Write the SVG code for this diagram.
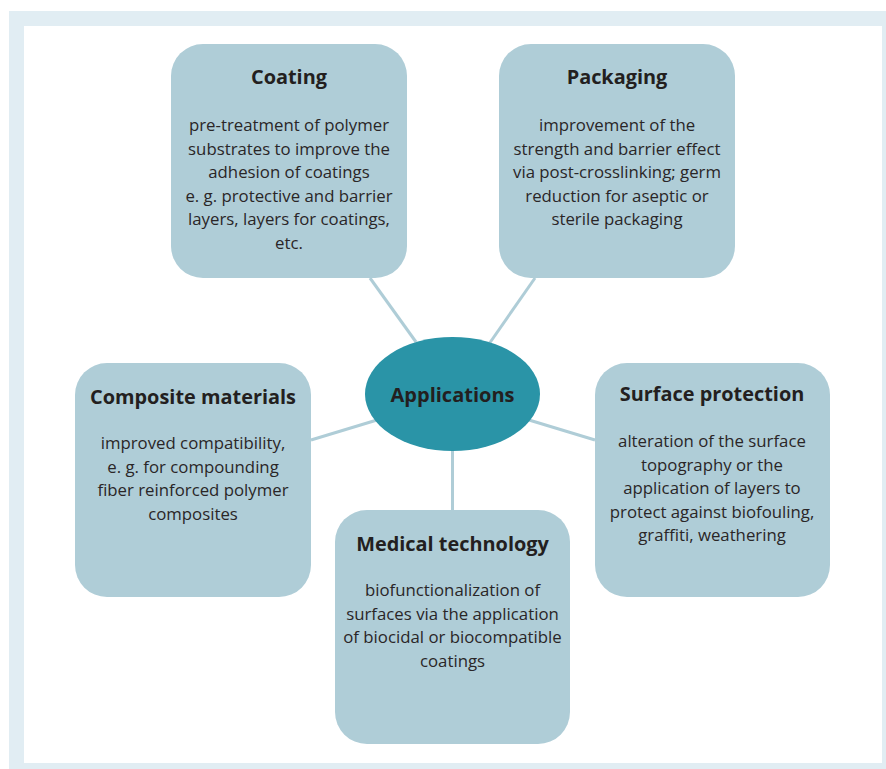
<svg xmlns="http://www.w3.org/2000/svg" width="886" height="769" viewBox="0 0 886 769">
<style>
.box{fill:#afcdd7}
.t{font-family:"Open Sans","Liberation Sans",sans-serif;font-weight:bold;font-size:19.9px;fill:#231f20;text-anchor:middle}
.b{font-family:"Open Sans","Liberation Sans",sans-serif;font-size:16.8px;fill:#2a2627;text-anchor:middle}
.c{stroke:#afcdd7;stroke-width:3;fill:none}
</style>
<rect x="9" y="11" width="890" height="770" fill="#e1edf3"/>
<rect x="24" y="26" width="858" height="737" fill="#ffffff"/>
<g id="connectors">
<line class="c" x1="370" y1="278" x2="416" y2="342"/>
<line class="c" x1="535" y1="278" x2="489" y2="344"/>
<line class="c" x1="311" y1="440" x2="377" y2="420"/>
<line class="c" x1="595" y1="440" x2="529" y2="420"/>
<line class="c" x1="452.5" y1="451" x2="452.5" y2="510"/>
</g>
<g id="coating">
<rect class="box" x="171" y="44" width="236" height="234" rx="32"/>
<text class="t" x="289" y="84">Coating</text>
<text class="b" x="289" y="131">pre-treatment of polymer</text>
<text class="b" x="289" y="154.5">substrates to improve the</text>
<text class="b" x="289" y="178">adhesion of coatings</text>
<text class="b" x="289" y="201.5">e. g. protective and barrier</text>
<text class="b" x="289" y="225">layers, layers for coatings,</text>
<text class="b" x="289" y="248.5">etc.</text>
</g>
<g id="packaging">
<rect class="box" x="499" y="44" width="236" height="234" rx="32"/>
<text class="t" x="617" y="84">Packaging</text>
<text class="b" x="617" y="131">improvement of the</text>
<text class="b" x="617" y="154.5">strength and barrier effect</text>
<text class="b" x="617" y="178">via post-crosslinking; germ</text>
<text class="b" x="617" y="201.5">reduction for aseptic or</text>
<text class="b" x="617" y="225">sterile packaging</text>
</g>
<g id="composite">
<rect class="box" x="75" y="363" width="236" height="234" rx="32"/>
<text class="t" x="193" y="404">Composite materials</text>
<text class="b" x="193" y="449">improved compatibility,</text>
<text class="b" x="193" y="472.5">e. g. for compounding</text>
<text class="b" x="193" y="496">fiber reinforced polymer</text>
<text class="b" x="193" y="519.5">composites</text>
</g>
<g id="surface">
<rect class="box" x="595" y="363" width="235" height="234" rx="32"/>
<text class="t" x="712" y="401">Surface protection</text>
<text class="b" x="712" y="447">alteration of the surface</text>
<text class="b" x="712" y="470.5">topography or the</text>
<text class="b" x="712" y="494">application of layers to</text>
<text class="b" x="712" y="517.5">protect against biofouling,</text>
<text class="b" x="712" y="541">graffiti, weathering</text>
</g>
<g id="medical">
<rect class="box" x="335" y="510" width="235" height="234" rx="32"/>
<text class="t" x="452.5" y="551">Medical technology</text>
<text class="b" x="452.5" y="596">biofunctionalization of</text>
<text class="b" x="452.5" y="619.5">surfaces via the application</text>
<text class="b" x="452.5" y="643">of biocidal or biocompatible</text>
<text class="b" x="452.5" y="666.5">coatings</text>
</g>
<g id="applications">
<ellipse cx="452.5" cy="394" rx="87.5" ry="57" fill="#2a94a7"/>
<text class="t" x="452.5" y="402" style="font-size:20px">Applications</text>
</g>
</svg>
